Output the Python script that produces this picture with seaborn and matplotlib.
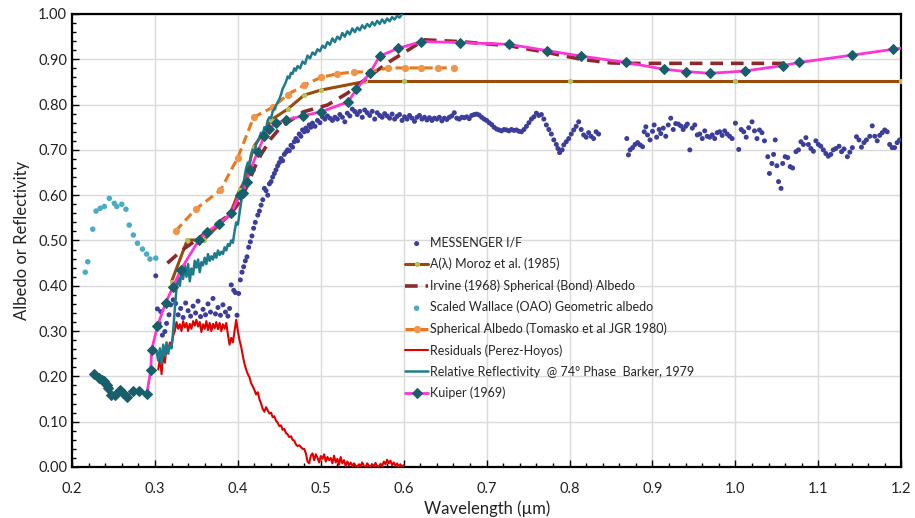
import numpy as np
import pandas as pd
import matplotlib.pyplot as plt
import seaborn as sns
from matplotlib.ticker import MultipleLocator, FormatStrFormatter

# ---- data ----
messenger = [
    (0.301, 0.422), (0.303, 0.349), (0.305, 0.317), (0.307, 0.343), (0.309, 0.291), (0.312, 0.299),
    (0.314, 0.317), (0.317, 0.336), (0.319, 0.358), (0.322, 0.369), (0.325, 0.361), (0.328, 0.336),
    (0.331, 0.350), (0.334, 0.330), (0.337, 0.362), (0.340, 0.345), (0.343, 0.333), (0.346, 0.355),
    (0.349, 0.340), (0.352, 0.366), (0.355, 0.332), (0.358, 0.348), (0.361, 0.336), (0.364, 0.360),
    (0.367, 0.342), (0.370, 0.372), (0.373, 0.338), (0.376, 0.352), (0.379, 0.335), (0.382, 0.358),
    (0.385, 0.342), (0.388, 0.333), (0.390, 0.350), (0.392, 0.402), (0.395, 0.390), (0.397, 0.385),
    (0.399, 0.335), (0.401, 0.383), (0.403, 0.413), (0.405, 0.430), (0.407, 0.442), (0.409, 0.455),
    (0.411, 0.464), (0.413, 0.485), (0.415, 0.497), (0.417, 0.510), (0.419, 0.527), (0.421, 0.540),
    (0.424, 0.556), (0.426, 0.565), (0.428, 0.578), (0.430, 0.590), (0.432, 0.615), (0.434, 0.610),
    (0.436, 0.600), (0.438, 0.625), (0.440, 0.630), (0.442, 0.640), (0.444, 0.648), (0.446, 0.656),
    (0.448, 0.665), (0.450, 0.672), (0.452, 0.681), (0.454, 0.676), (0.456, 0.690), (0.458, 0.695),
    (0.460, 0.700), (0.462, 0.698), (0.464, 0.710), (0.466, 0.706), (0.468, 0.718), (0.470, 0.725),
    (0.472, 0.720), (0.474, 0.735), (0.476, 0.730), (0.478, 0.744), (0.480, 0.740), (0.482, 0.748),
    (0.484, 0.742), (0.486, 0.755), (0.488, 0.750), (0.490, 0.759), (0.493, 0.752), (0.496, 0.765),
    (0.499, 0.760), (0.502, 0.773), (0.505, 0.768), (0.508, 0.775), (0.511, 0.770), (0.514, 0.765),
    (0.517, 0.772), (0.520, 0.768), (0.523, 0.778), (0.526, 0.772), (0.529, 0.762), (0.532, 0.781),
    (0.535, 0.775), (0.538, 0.790), (0.541, 0.785), (0.544, 0.778), (0.547, 0.785), (0.550, 0.772),
    (0.553, 0.788), (0.556, 0.782), (0.559, 0.776), (0.562, 0.785), (0.565, 0.768), (0.568, 0.782),
    (0.571, 0.776), (0.574, 0.772), (0.577, 0.780), (0.580, 0.775), (0.583, 0.770), (0.586, 0.779),
    (0.589, 0.768), (0.592, 0.774), (0.595, 0.778), (0.598, 0.765), (0.601, 0.773), (0.604, 0.768),
    (0.607, 0.776), (0.610, 0.770), (0.613, 0.763), (0.616, 0.772), (0.619, 0.776), (0.622, 0.768),
    (0.625, 0.772), (0.628, 0.766), (0.631, 0.771), (0.634, 0.765), (0.637, 0.770), (0.640, 0.768),
    (0.643, 0.772), (0.646, 0.764), (0.649, 0.770), (0.652, 0.767), (0.655, 0.772), (0.658, 0.775),
    (0.661, 0.782), (0.664, 0.770), (0.667, 0.768), (0.670, 0.772), (0.673, 0.771), (0.676, 0.773),
    (0.679, 0.769), (0.682, 0.776), (0.685, 0.778), (0.688, 0.779), (0.691, 0.777), (0.694, 0.772),
    (0.697, 0.768), (0.700, 0.765), (0.703, 0.760), (0.706, 0.756), (0.709, 0.750), (0.712, 0.746),
    (0.715, 0.744), (0.718, 0.742), (0.721, 0.745), (0.724, 0.744), (0.727, 0.742), (0.730, 0.745),
    (0.733, 0.743), (0.736, 0.744), (0.739, 0.741), (0.742, 0.740), (0.745, 0.745), (0.748, 0.752),
    (0.751, 0.760), (0.754, 0.768), (0.757, 0.773), (0.760, 0.781), (0.763, 0.776), (0.766, 0.778),
    (0.769, 0.768), (0.772, 0.755), (0.775, 0.745), (0.778, 0.735), (0.781, 0.722), (0.784, 0.712),
    (0.786, 0.703), (0.788, 0.694), (0.791, 0.700), (0.793, 0.711), (0.796, 0.718), (0.799, 0.725),
    (0.802, 0.735), (0.805, 0.744), (0.808, 0.752), (0.811, 0.762), (0.814, 0.745), (0.817, 0.733),
    (0.820, 0.728), (0.823, 0.738), (0.826, 0.730), (0.829, 0.725), (0.832, 0.740), (0.835, 0.735),
    (0.869, 0.725), (0.871, 0.689), (0.873, 0.700), (0.876, 0.705), (0.879, 0.712), (0.882, 0.716),
    (0.885, 0.711), (0.888, 0.707), (0.890, 0.740), (0.892, 0.751), (0.894, 0.733), (0.897, 0.722),
    (0.900, 0.741), (0.902, 0.755), (0.905, 0.728), (0.908, 0.745), (0.910, 0.736), (0.913, 0.748),
    (0.916, 0.730), (0.919, 0.755), (0.922, 0.770), (0.925, 0.745), (0.928, 0.758), (0.931, 0.757),
    (0.934, 0.753), (0.937, 0.745), (0.940, 0.752), (0.942, 0.757), (0.945, 0.700), (0.948, 0.748),
    (0.951, 0.755), (0.954, 0.733), (0.957, 0.735), (0.960, 0.725), (0.963, 0.742), (0.966, 0.730),
    (0.969, 0.728), (0.972, 0.733), (0.975, 0.725), (0.978, 0.738), (0.981, 0.740), (0.984, 0.732),
    (0.987, 0.742), (0.990, 0.735), (0.993, 0.730), (0.996, 0.725), (1.000, 0.759), (1.004, 0.701),
    (1.007, 0.745), (1.010, 0.740), (1.013, 0.728), (1.016, 0.749), (1.020, 0.762), (1.023, 0.742),
    (1.026, 0.725), (1.029, 0.744), (1.032, 0.738), (1.035, 0.720), (1.039, 0.685), (1.041, 0.648),
    (1.044, 0.670), (1.046, 0.690), (1.048, 0.722), (1.050, 0.665), (1.052, 0.630), (1.055, 0.615),
    (1.057, 0.670), (1.060, 0.685), (1.063, 0.683), (1.066, 0.663), (1.069, 0.660), (1.073, 0.696),
    (1.076, 0.700), (1.079, 0.718), (1.082, 0.712), (1.085, 0.727), (1.088, 0.712), (1.091, 0.703),
    (1.094, 0.697), (1.097, 0.720), (1.100, 0.712), (1.103, 0.708), (1.106, 0.700), (1.109, 0.692),
    (1.112, 0.686), (1.115, 0.690), (1.118, 0.700), (1.121, 0.703), (1.125, 0.708), (1.128, 0.696),
    (1.131, 0.702), (1.135, 0.685), (1.138, 0.695), (1.141, 0.705), (1.146, 0.729), (1.149, 0.722),
    (1.152, 0.706), (1.155, 0.716), (1.158, 0.722), (1.162, 0.730), (1.165, 0.753), (1.168, 0.730),
    (1.171, 0.720), (1.174, 0.732), (1.177, 0.738), (1.180, 0.744), (1.183, 0.740), (1.186, 0.712),
    (1.189, 0.705), (1.192, 0.705), (1.195, 0.716), (1.198, 0.722),
]

moroz_wl = [0.320, 0.339, 0.359, 0.377, 0.390, 0.402, 0.409, 0.419, 0.432, 0.440, 0.460, 0.480,
            0.500, 0.553, 0.600, 0.800, 1.000, 1.200]
moroz_val = [0.409, 0.501, 0.501, 0.534, 0.556, 0.611, 0.634, 0.707, 0.740, 0.766, 0.790, 0.821,
             0.832, 0.851, 0.851, 0.851, 0.851, 0.851]

irvine_wl = [0.315, 0.333, 0.353, 0.371, 0.392, 0.402, 0.411, 0.420, 0.428, 0.440, 0.452, 0.479,
             0.508, 0.532, 0.561, 0.583, 0.605, 0.625, 0.668, 0.727, 0.773, 0.814, 0.850, 0.870, 1.065]
irvine_val = [0.450, 0.479, 0.505, 0.532, 0.560, 0.585, 0.620, 0.660, 0.690, 0.725, 0.751, 0.784,
              0.799, 0.825, 0.866, 0.895, 0.920, 0.943, 0.939, 0.930, 0.915, 0.900, 0.892, 0.891, 0.891]

wallace_wl = [0.216, 0.219, 0.225, 0.229, 0.234, 0.239, 0.245, 0.251, 0.254, 0.260, 0.265, 0.269,
              0.274, 0.279, 0.285, 0.290, 0.294, 0.301]
wallace_val = [0.430, 0.453, 0.525, 0.565, 0.571, 0.575, 0.593, 0.582, 0.575, 0.580, 0.569, 0.534,
               0.512, 0.494, 0.481, 0.470, 0.459, 0.461]

tomasko_wl = [0.325, 0.349, 0.379, 0.400, 0.419, 0.442, 0.460, 0.480, 0.500, 0.520, 0.540, 0.559,
              0.581, 0.601, 0.621, 0.641, 0.661]
tomasko_val = [0.521, 0.569, 0.611, 0.683, 0.772, 0.794, 0.822, 0.843, 0.860, 0.868, 0.872, 0.872,
               0.881, 0.881, 0.881, 0.881, 0.881]

residuals = [
    (0.304, 0.215), (0.306, 0.240), (0.308, 0.205), (0.310, 0.250), (0.312, 0.230), (0.314, 0.265),
    (0.316, 0.255), (0.318, 0.275), (0.320, 0.268), (0.322, 0.290), (0.324, 0.300), (0.326, 0.320),
    (0.328, 0.305), (0.330, 0.315), (0.332, 0.300), (0.334, 0.322), (0.336, 0.308), (0.338, 0.318),
    (0.340, 0.300), (0.342, 0.316), (0.344, 0.305), (0.346, 0.322), (0.348, 0.312), (0.350, 0.325),
    (0.352, 0.310), (0.354, 0.320), (0.356, 0.298), (0.358, 0.315), (0.360, 0.305), (0.362, 0.322),
    (0.364, 0.302), (0.366, 0.318), (0.368, 0.300), (0.370, 0.316), (0.372, 0.306), (0.374, 0.320),
    (0.376, 0.304), (0.378, 0.318), (0.380, 0.300), (0.382, 0.315), (0.384, 0.305), (0.386, 0.318),
    (0.388, 0.292), (0.390, 0.270), (0.392, 0.285), (0.394, 0.275), (0.396, 0.300), (0.398, 0.325),
    (0.400, 0.300), (0.402, 0.280), (0.404, 0.265), (0.406, 0.245), (0.408, 0.228), (0.410, 0.215),
    (0.412, 0.205), (0.414, 0.198), (0.416, 0.185), (0.418, 0.178), (0.420, 0.170), (0.422, 0.160),
    (0.424, 0.165), (0.426, 0.150), (0.428, 0.140), (0.430, 0.128), (0.432, 0.122), (0.434, 0.132),
    (0.436, 0.125), (0.438, 0.118), (0.440, 0.120), (0.442, 0.110), (0.444, 0.112), (0.446, 0.102),
    (0.448, 0.098), (0.450, 0.090), (0.452, 0.092), (0.454, 0.082), (0.456, 0.084), (0.458, 0.075),
    (0.460, 0.072), (0.462, 0.066), (0.464, 0.068), (0.466, 0.060), (0.468, 0.058), (0.470, 0.050),
    (0.472, 0.046), (0.474, 0.048), (0.476, 0.044), (0.478, 0.040), (0.480, 0.040), (0.482, 0.030),
    (0.484, 0.012), (0.486, 0.008), (0.488, 0.025), (0.490, 0.030), (0.492, 0.015), (0.494, 0.028),
    (0.496, 0.020), (0.498, 0.010), (0.500, 0.024), (0.502, 0.018), (0.504, 0.028), (0.506, 0.012),
    (0.508, 0.022), (0.510, 0.015), (0.512, 0.020), (0.514, 0.008), (0.516, 0.025), (0.518, 0.010),
    (0.520, 0.018), (0.522, 0.005), (0.524, 0.022), (0.526, 0.008), (0.528, 0.015), (0.530, 0.002),
    (0.532, 0.012), (0.534, 0.004), (0.536, 0.010), (0.538, 0.002), (0.540, 0.008), (0.542, 0.003),
    (0.544, 0.000), (0.546, 0.006), (0.548, 0.002), (0.550, 0.010), (0.552, 0.002), (0.554, 0.000),
    (0.556, 0.008), (0.558, 0.003), (0.560, 0.000), (0.562, 0.006), (0.564, 0.001), (0.566, 0.009),
    (0.568, 0.002), (0.570, 0.000), (0.572, 0.007), (0.574, 0.002), (0.576, 0.012), (0.578, 0.006),
    (0.580, 0.016), (0.582, 0.008), (0.584, 0.014), (0.586, 0.004), (0.588, 0.010), (0.590, 0.002),
    (0.592, 0.008), (0.594, 0.001), (0.596, 0.006), (0.598, 0.000), (0.600, 0.004),
]

barker = [
    (0.302, 0.255), (0.304, 0.235), (0.306, 0.262), (0.308, 0.228), (0.310, 0.270), (0.312, 0.245),
    (0.314, 0.275), (0.316, 0.250), (0.318, 0.268), (0.320, 0.262), (0.322, 0.300), (0.324, 0.350),
    (0.326, 0.395), (0.328, 0.420), (0.330, 0.400), (0.332, 0.430), (0.334, 0.415), (0.336, 0.445),
    (0.338, 0.420), (0.340, 0.448), (0.342, 0.410), (0.344, 0.438), (0.346, 0.425), (0.348, 0.455),
    (0.350, 0.440), (0.352, 0.458), (0.354, 0.430), (0.356, 0.452), (0.358, 0.445), (0.360, 0.462),
    (0.362, 0.448), (0.364, 0.470), (0.366, 0.455), (0.368, 0.465), (0.370, 0.458), (0.372, 0.472),
    (0.374, 0.462), (0.376, 0.478), (0.378, 0.468), (0.380, 0.475), (0.382, 0.470), (0.384, 0.485),
    (0.386, 0.478), (0.388, 0.492), (0.390, 0.488), (0.392, 0.500), (0.394, 0.495), (0.396, 0.520),
    (0.398, 0.540), (0.400, 0.535), (0.402, 0.560), (0.404, 0.585), (0.406, 0.610), (0.408, 0.640),
    (0.410, 0.660), (0.412, 0.672), (0.414, 0.668), (0.416, 0.690), (0.418, 0.700), (0.420, 0.695),
    (0.422, 0.712), (0.424, 0.720), (0.426, 0.728), (0.428, 0.738), (0.430, 0.735), (0.432, 0.750),
    (0.434, 0.748), (0.436, 0.765), (0.438, 0.772), (0.440, 0.770), (0.442, 0.785), (0.444, 0.790),
    (0.446, 0.798), (0.448, 0.805), (0.450, 0.812), (0.452, 0.822), (0.454, 0.835), (0.456, 0.842),
    (0.458, 0.850), (0.460, 0.862), (0.462, 0.858), (0.464, 0.870), (0.466, 0.868), (0.468, 0.880),
    (0.470, 0.875), (0.472, 0.885), (0.475, 0.880), (0.478, 0.895), (0.481, 0.890), (0.484, 0.908),
    (0.487, 0.902), (0.490, 0.915), (0.493, 0.910), (0.496, 0.922), (0.499, 0.918), (0.502, 0.930),
    (0.505, 0.925), (0.508, 0.938), (0.511, 0.932), (0.514, 0.946), (0.517, 0.938), (0.520, 0.950),
    (0.523, 0.944), (0.526, 0.958), (0.529, 0.950), (0.532, 0.962), (0.535, 0.955), (0.538, 0.968),
    (0.541, 0.960), (0.544, 0.970), (0.547, 0.964), (0.550, 0.975), (0.553, 0.968), (0.556, 0.978),
    (0.559, 0.972), (0.562, 0.982), (0.565, 0.975), (0.568, 0.985), (0.571, 0.978), (0.574, 0.988),
    (0.577, 0.980), (0.580, 0.990), (0.583, 0.984), (0.586, 0.993), (0.589, 0.988), (0.592, 0.996),
    (0.595, 0.992), (0.598, 1.000),
]

kuiper_wl = [0.226, 0.232, 0.236, 0.239, 0.242, 0.244, 0.247, 0.252, 0.258, 0.262, 0.266, 0.273,
             0.281, 0.290, 0.295, 0.296, 0.303, 0.313, 0.322, 0.331, 0.353, 0.363, 0.377, 0.392,
             0.402, 0.406, 0.411, 0.415, 0.424, 0.432, 0.438, 0.446, 0.458, 0.478, 0.500, 0.533,
             0.543, 0.559, 0.571, 0.593, 0.621, 0.668, 0.727, 0.773, 0.814, 0.868, 0.914, 0.940,
             0.969, 1.011, 1.057, 1.077, 1.140, 1.190, 1.210]
kuiper_val = [0.205, 0.197, 0.192, 0.189, 0.181, 0.174, 0.159, 0.159, 0.170, 0.163, 0.155, 0.168,
              0.168, 0.160, 0.214, 0.258, 0.311, 0.363, 0.398, 0.435, 0.501, 0.519, 0.537, 0.560,
              0.600, 0.604, 0.630, 0.656, 0.696, 0.731, 0.747, 0.759, 0.766, 0.775, 0.784, 0.806,
              0.834, 0.869, 0.907, 0.924, 0.939, 0.937, 0.933, 0.919, 0.907, 0.893, 0.878, 0.873,
              0.869, 0.874, 0.886, 0.893, 0.909, 0.922, 0.927]

labels = ['MESSENGER I/F', 'A(λ) Moroz et al. (1985)', 'Irvine (1968) Spherical (Bond) Albedo',
          'Scaled Wallace (OAO) Geometric albedo', 'Spherical Albedo (Tomasko et al JGR 1980)',
          'Residuals (Perez-Hoyos)', 'Relative Reflectivity  @ 74° Phase  Barker, 1979', 'Kuiper (1969)']

msg_df = pd.DataFrame(messenger, columns=['wl', 'val'])
res_df = pd.DataFrame(residuals, columns=['wl', 'val'])
bar_df = pd.DataFrame(barker, columns=['wl', 'val'])

# ---- plotting ----
sns.set_style('white')
plt.rcParams['font.family'] = ['Lato', 'DejaVu Sans']

fig, ax = plt.subplots(figsize=(9.15, 5.18), dpi=100)
fig.subplots_adjust(left=0.0787, right=0.985, bottom=0.0985, top=0.973)

sns.scatterplot(data=msg_df, x='wl', y='val', s=13, color='#3D3D9B', edgecolor='none',
                label=labels[0], ax=ax, zorder=3)
sns.lineplot(x=moroz_wl, y=moroz_val, color='#9A4A0C', lw=2.2, marker='o', markersize=3,
             markerfacecolor='#B5C25A', markeredgecolor='#B5C25A', sort=False, estimator=None,
             label=labels[1], ax=ax, zorder=4)
sns.lineplot(x=irvine_wl, y=irvine_val, color='#8B2A2A', lw=2.6, linestyle=(0, (3.5, 2.2)),
             sort=False, estimator=None, label=labels[2], ax=ax, zorder=4)
sns.scatterplot(x=wallace_wl, y=wallace_val, s=16, color='#4BACC6', edgecolor='none',
                label=labels[3], ax=ax, zorder=3)
sns.lineplot(x=tomasko_wl, y=tomasko_val, color='#E8791E', lw=2.2, linestyle=(0, (3, 1.6)),
             marker='o', markersize=4.5, markeredgecolor='#F0964A', markerfacecolor='#F0964A',
             sort=False, estimator=None, label=labels[4], ax=ax, zorder=4)
sns.lineplot(data=res_df, x='wl', y='val', color='#E00000', lw=1.5, sort=False, estimator=None,
             label=labels[5], ax=ax, zorder=4)
sns.lineplot(data=bar_df, x='wl', y='val', color='#1F7A8C', lw=1.8, sort=False, estimator=None,
             label=labels[6], ax=ax, zorder=4)
sns.lineplot(x=kuiper_wl, y=kuiper_val, color='#FF33D6', lw=2, marker='D', markersize=5,
             markerfacecolor='#17606B', markeredgecolor='#17606B', sort=False, estimator=None,
             label=labels[7], ax=ax, zorder=5)

ax.set_xlim(0.2, 1.2)
ax.set_ylim(0, 1.0)
ax.xaxis.set_major_locator(MultipleLocator(0.1))
ax.xaxis.set_minor_locator(MultipleLocator(0.02))
ax.yaxis.set_major_locator(MultipleLocator(0.1))
ax.yaxis.set_minor_locator(MultipleLocator(0.02))
ax.xaxis.set_major_formatter(FormatStrFormatter('%.1f'))
ax.yaxis.set_major_formatter(FormatStrFormatter('%.2f'))
ax.tick_params(which='both', direction='in', bottom=True, left=True, top=False, right=False,
               color='black', labelsize=10.5, labelcolor='#222222')
ax.tick_params(which='major', length=5, width=1)
ax.tick_params(which='minor', length=3, width=1)
ax.tick_params(axis='x', pad=11)
ax.grid(True, which='major', color='#DADADA', lw=1)
ax.set_axisbelow(True)
for side in ['left', 'bottom', 'top', 'right']:
    ax.spines[side].set_color('black')
    ax.spines[side].set_linewidth(1.6)

ax.set_xlabel('Wavelength (µm)', fontsize=12, color='#222222', labelpad=3)
ax.set_ylabel('Albedo or Reflectivity', fontsize=12, color='#222222', labelpad=6)

handles, labs = ax.get_legend_handles_labels()
order = [labs.index(l) for l in labels]
ax.legend([handles[i] for i in order], labels, loc='upper left', bbox_to_anchor=(0.402, 0.508),
          frameon=False, fontsize=9, handlelength=1.8, handletextpad=0.15, labelspacing=0.72,
          borderaxespad=0, borderpad=0, scatterpoints=1)

plt.savefig('out.png', dpi=100)
